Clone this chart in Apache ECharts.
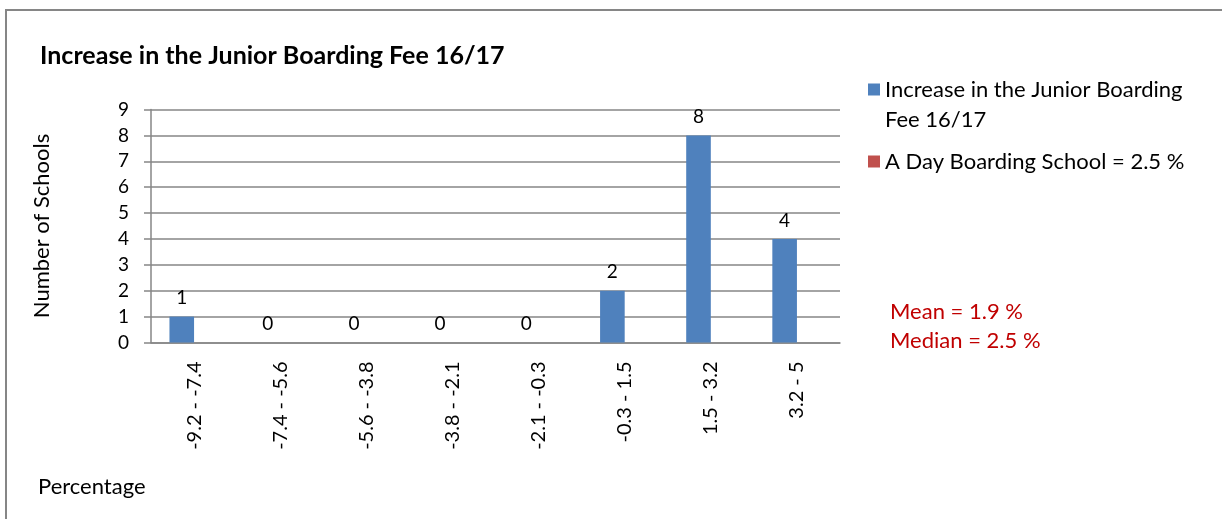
<!DOCTYPE html>
<html>
<head>
<meta charset="utf-8">
<script src="https://cdn.jsdelivr.net/npm/echarts@6/dist/echarts.min.js"></script>
<style>
  html, body { margin: 0; padding: 0; background: #fff; }
  #chart { width: 1222px; height: 519px; }
</style>
</head>
<body>
<div id="chart"></div>
<script>
const ranges = ['-9.2 - -7.4', '-7.4 - -5.6', '-5.6 - -3.8', '-3.8 - -2.1', '-2.1 - -0.3', '-0.3 - 1.5', '1.5 - 3.2', '3.2 - 5'];
const feeCounts = [1, 0, 0, 0, 0, 2, 8, 4];
const daySchool = [0, 0, 0, 0, 0, 0, 0, 0];
const yTicks = [0, 9, 1]; // min, max, interval

const font = "Lato, 'Open Sans', sans-serif";
const feeName = 'Increase in the Junior Boarding Fee 16/17';
const dayName = 'A Day Boarding School = 2.5 %';
const chart = echarts.init(document.getElementById('chart'));

chart.setOption({
  animation: false,
  textStyle: { fontFamily: font },
  title: {
    text: feeName,
    left: 35, top: 38,
    textStyle: { fontSize: 25, fontWeight: 'bold', color: '#000', fontFamily: font }
  },
  legend: {
    orient: 'vertical',
    left: 863, top: 70,
    itemWidth: 12, itemHeight: 12, itemGap: 43,
    icon: 'rect',
    textStyle: { fontSize: 22, color: '#000', lineHeight: 29 },
    // wrapped second line is drawn as graphic text below
    formatter: name => name === feeName ? 'Increase in the Junior Boarding' : name,
    data: [feeName, dayName]
  },
  grid: { left: 151, right: 382, top: 109.5, bottom: 176.5 },
  xAxis: {
    type: 'category', data: ranges,
    axisLine: { lineStyle: { color: '#868686', width: 1.5 } },
    axisTick: { length: 7, lineStyle: { color: '#868686', width: 1.5 } },
    axisLabel: { rotate: 90, margin: 19, fontSize: 20, color: '#000', interval: 0 }
  },
  yAxis: {
    type: 'value', min: yTicks[0], max: yTicks[1], interval: yTicks[2],
    name: 'Number of Schools', nameLocation: 'middle', nameGap: 98,
    nameTextStyle: { fontSize: 22, color: '#000' },
    axisLine: { show: true, lineStyle: { color: '#868686', width: 1.5 } },
    axisTick: { show: true, length: 7, lineStyle: { color: '#868686', width: 1.5 } },
    axisLabel: { margin: 22, fontSize: 19, color: '#000' },
    splitLine: { lineStyle: { color: '#868686', width: 1.5 } }
  },
  series: [
    {
      name: feeName,
      type: 'bar', data: feeCounts,
      barWidth: '28.57%', barGap: '0%',
      itemStyle: { color: '#4f81bd' },
      label: { show: true, position: 'top', distance: 9, fontSize: 19, color: '#000' }
    },
    {
      name: dayName,
      type: 'bar', data: daySchool,
      barWidth: '28.57%',
      itemStyle: { color: '#c0504d' }
    }
  ],
  graphic: [
    {
      type: 'rect', silent: true, z: -1,
      shape: { x: 6, y: 10, width: 1240, height: 540 },
      style: { fill: 'none', stroke: '#868686', lineWidth: 2 }
    },
    {
      type: 'text', left: 885, top: 109,
      style: { text: 'Fee 16/17', fill: '#000', font: '22px ' + font }
    },
    {
      type: 'text', left: 890, top: 297,
      style: { text: 'Mean = 1.9 %\nMedian = 2.5 %', fill: '#c00000', font: '22px ' + font, lineHeight: 29 }
    },
    {
      type: 'text', left: 38, top: 476,
      style: { text: 'Percentage', fill: '#000', font: '22px ' + font }
    }
  ]
});
</script>
</body>
</html>
